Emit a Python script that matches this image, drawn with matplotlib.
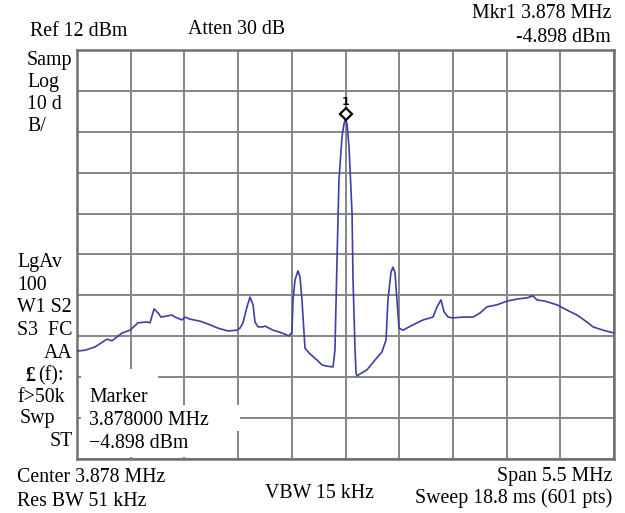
""" Spectrum analyser screen: marker on the 3.878 MHz carrier """
import matplotlib
matplotlib.use("Agg")
import matplotlib.pyplot as plt
from matplotlib.patches import Rectangle

plt.rcParams["font.family"] = ["Liberation Serif", "DejaVu Serif"]
plt.rcParams["font.size"] = 14.3

# analyser settings
ref_level = 12.0      # dBm, top of screen
db_per_div = 10.0
center_mhz = 3.878
span_mhz = 5.5
mkr_freq = 3.878
mkr_level = -4.898

# trace (MHz, dBm)
freq = [1.128, 1.210, 1.312, 1.435, 1.486, 1.589, 1.671, 1.753, 1.845, 1.876,
        1.917, 1.958, 1.988, 2.101, 2.132, 2.203, 2.234, 2.285, 2.388, 2.470,
        2.572, 2.675, 2.767, 2.797, 2.828, 2.869, 2.900, 2.931, 2.951, 2.982,
        3.033, 3.054, 3.135, 3.228, 3.299, 3.330, 3.340, 3.361, 3.391, 3.412,
        3.432, 3.463, 3.514, 3.586, 3.637, 3.689, 3.750, 3.770, 3.791, 3.811,
        3.842, 3.863, 3.878, 3.893, 3.914, 3.945, 3.955, 3.975, 3.986, 3.996,
        4.026, 4.098, 4.180, 4.252, 4.293, 4.313, 4.344, 4.364, 4.385, 4.405,
        4.426, 4.467, 4.569, 4.672, 4.774, 4.815, 4.856, 4.887, 4.928, 4.979,
        5.081, 5.184, 5.256, 5.327, 5.430, 5.532, 5.634, 5.737, 5.798, 5.839,
        5.921, 6.044, 6.147, 6.249, 6.351, 6.413, 6.515, 6.628]
level = [-61.6, -61.4, -60.6, -58.7, -59.1, -57.2, -56.5, -54.7, -54.5, -54.7,
         -51.3, -52.3, -53.3, -52.8, -53.3, -54.0, -53.3, -53.8, -54.3, -55.0,
         -56.0, -56.7, -56.5, -56.0, -54.7, -50.8, -48.4, -50.3, -54.5, -55.7,
         -55.7, -55.5, -56.5, -57.2, -57.9, -57.0, -49.1, -44.2, -42.0, -43.5,
         -49.1, -60.9, -62.3, -63.8, -65.0, -65.3, -65.5, -61.4, -39.3, -19.8,
         -9.3, -6.0, -4.9, -6.0, -11.7, -27.9, -44.2, -60.6, -67.0, -67.7,
         -67.2, -66.2, -63.8, -61.8, -58.9, -49.1, -42.3, -41.1, -42.5, -49.1,
         -56.0, -56.5, -55.2, -54.0, -53.3, -50.8, -49.1, -52.0, -53.3, -53.5,
         -53.3, -53.3, -52.3, -50.8, -50.3, -49.4, -48.9, -48.6, -48.1, -49.1,
         -49.4, -50.3, -51.6, -52.8, -54.5, -55.7, -56.5, -57.2]

left_labels = ["Samp", "Log", "10 d", "B/"]
status_labels = ["LgAv", "100", "W1 S2", "S3  FC"]
marker_lines = ["Marker", "3.878000 MHz", "\u22124.898 dBm"]

W, H = 625, 513
fig = plt.figure(figsize=(W / 100, H / 100), dpi=100)
ax = fig.add_axes([77 / W, 1 - 459 / H, 537 / W, 409 / H])

ax.set_xlim(center_mhz - span_mhz / 2, center_mhz + span_mhz / 2)
ax.set_ylim(ref_level - 10 * db_per_div, ref_level)
ax.set_xticks([center_mhz - span_mhz / 2 + i * span_mhz / 10 for i in range(11)])
ax.set_yticks([ref_level - i * db_per_div for i in range(11)])
ax.tick_params(length=0, labelbottom=False, labelleft=False)
ax.grid(True, color="#858585", lw=1.4)
for s in ax.spines.values():
    s.set_color("#707070")
    s.set_linewidth(1.8)

ax.plot(freq, level, color="#3b3fa6", lw=1.2, zorder=3)
ax.plot([mkr_freq], [mkr_level + 1.3], marker="D", ms=6, mfc="white",
        mec="black", mew=1.6, zorder=4)
ax.text(mkr_freq, mkr_level + 4.2, "1", ha="center", va="center",
        fontsize=8, family="DejaVu Sans", fontweight="bold")


def px(x, y, s, **kw):
    fig.text(x / W, 1 - y / H, s, va="center", **kw)


def blank(x0, y0, x1, y1):
    # white panel behind the marker read-out, hides the grid there
    fig.patches.append(Rectangle((x0 / W, 1 - y1 / H), (x1 - x0) / W,
                                 (y1 - y0) / H, transform=fig.transFigure,
                                 facecolor="white", edgecolor="none",
                                 zorder=2))


blank(81, 369, 158, 405)
blank(81, 405, 240, 431)
blank(81, 431, 232, 457)

px(30, 32, "Ref 12 dBm")
px(188, 30, "Atten 30 dB")
px(611, 13, "Mkr1 3.878 MHz", ha="right")
px(611, 38, "-4.898 dBm", ha="right")

for i, s in enumerate(left_labels):
    px(27, 60 + i * 22.3, s)
for i, s in enumerate(status_labels):
    px(17, 263 + i * 22.5, s)
px(73, 353, "AA", ha="right")
px(25, 376, "\u00a3", fontweight="bold")
px(38, 376, "(f):")
px(17, 398, "f>50k")
px(20, 419, "Swp")
px(73, 441, "ST", ha="right")

for i, s in enumerate(marker_lines):
    px(89, 398 + i * 22.5, s, zorder=5)

px(17, 477, "Center 3.878 MHz")
px(17, 502, "Res BW 51 kHz")
px(265, 493, "VBW 15 kHz")
px(612, 477, "Span 5.5 MHz", ha="right")
px(612, 498, "Sweep 18.8 ms (601 pts)", ha="right")

fig.savefig("out.png", dpi=100, facecolor="white")
